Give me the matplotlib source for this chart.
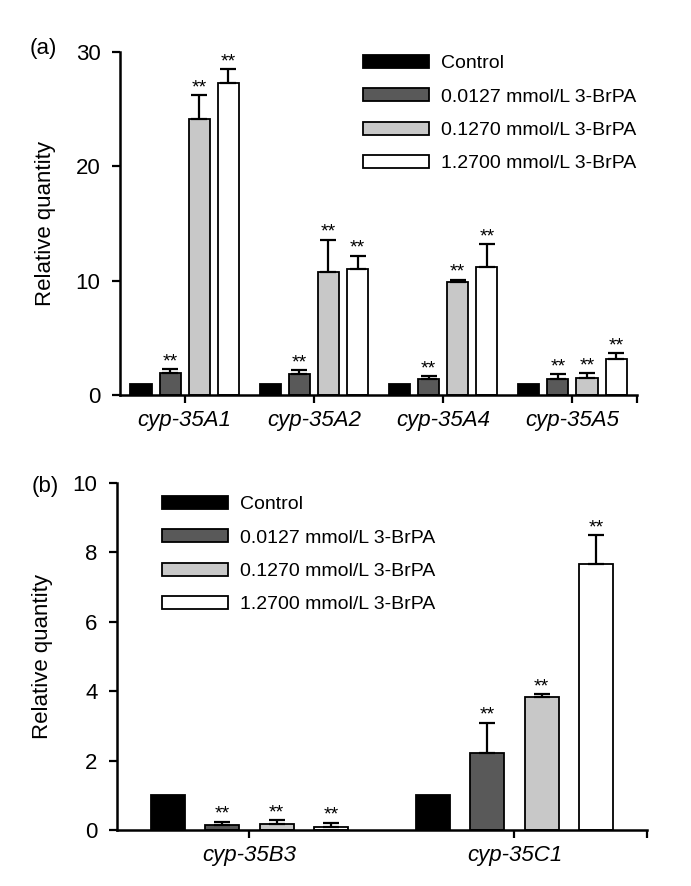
import numpy as np
import matplotlib.pyplot as plt
from matplotlib.patches import Patch

plt.rcParams['font.family'] = ['Liberation Sans', 'DejaVu Sans']

# Dados
series = ['Control', '0.0127 mmol/L 3-BrPA', '0.1270 mmol/L 3-BrPA', '1.2700 mmol/L 3-BrPA']
colors = ['#000000', '#595959', '#c8c8c8', '#ffffff']

genes_a = ['cyp-35A1', 'cyp-35A2', 'cyp-35A4', 'cyp-35A5']
# valores por série (linha) e gene (coluna)
vals_a = [[1.0, 1.0, 1.0, 1.0],
          [1.9, 1.85, 1.4, 1.4],
          [24.1, 10.8, 9.9, 1.5],
          [27.3, 11.0, 11.2, 3.2]]
errs_a = [[0, 0, 0, 0],
          [0.35, 0.35, 0.25, 0.45],
          [2.1, 2.8, 0.2, 0.4],
          [1.2, 1.2, 2.0, 0.5]]

genes_b = ['cyp-35B3', 'cyp-35C1']
vals_b = [[1.0, 1.0],
          [0.14, 2.21],
          [0.17, 3.82],
          [0.10, 7.67]]
errs_b = [[0, 0],
          [0.10, 0.88],
          [0.11, 0.10],
          [0.11, 0.81]]

fig = plt.figure(figsize=(6.91, 8.86), dpi=100)


def painel(ax, genes, vals, errs, step, width, ymax, yticks, capsize):
    x = np.arange(len(genes))
    for i in range(len(series)):
        pos = x + (i - 1.5) * step
        ax.bar(pos, vals[i], width, color=colors[i], edgecolor='black', linewidth=1.3, zorder=2)
        if i > 0:
            ax.errorbar(pos, vals[i], yerr=[np.zeros(len(genes)), errs[i]], fmt='none',
                        ecolor='black', elinewidth=1.6, capsize=capsize, capthick=1.6, zorder=3)
            for p, v, e in zip(pos, vals[i], errs[i]):
                ax.annotate('**', (p, v + e), xytext=(0, 2), textcoords='offset points',
                            ha='center', va='baseline', fontsize=14)
    ax.set_xlim(-0.5, len(genes) - 0.5)
    ax.set_ylim(0, ymax)
    ax.set_yticks(yticks)
    ax.set_xticks(x)
    ax.set_xticklabels(genes, fontstyle='italic', fontsize=16)
    ax.set_xticks([len(genes) - 0.5], minor=True)
    ax.tick_params(axis='both', which='both', direction='out', length=6, width=1.6, labelsize=16, pad=5)
    ax.tick_params(axis='y', pad=8)
    for s in ['top', 'right']:
        ax.spines[s].set_visible(False)
    for s in ['left', 'bottom']:
        ax.spines[s].set_linewidth(1.8)
    ax.set_ylabel('Relative quantity', fontsize=16, labelpad=14)


handles = [Patch(facecolor=c, edgecolor='black', linewidth=1.3) for c in colors]

ax1 = fig.add_axes([0.1737, 0.554, 0.922 - 0.1737, 0.9413 - 0.554])
painel(ax1, genes_a, vals_a, errs_a, 0.225, 0.163, 30, [0, 10, 20, 30], 6)
fig.legend(handles, series, loc='upper left', bbox_to_anchor=(363 / 691, 1 - 55 / 886),
           frameon=False, fontsize=14, handlelength=3.4, handleheight=0.65,
           handletextpad=0.6, labelspacing=0.82, borderpad=0, borderaxespad=0)
fig.text(0.043, 0.945, '(a)', fontsize=16, ha='left', va='center')

ax2 = fig.add_axes([0.1693, 0.0632, 0.9363 - 0.1693, 0.4552 - 0.0632])
painel(ax2, genes_b, vals_b, errs_b, 0.206, 0.129, 10, [0, 2, 4, 6, 8, 10], 6)
fig.legend(handles, series, loc='upper left', bbox_to_anchor=(162 / 691, 1 - 496 / 886),
           frameon=False, fontsize=14, handlelength=3.4, handleheight=0.65,
           handletextpad=0.6, labelspacing=0.82, borderpad=0, borderaxespad=0)
fig.text(0.046, 0.451, '(b)', fontsize=16, ha='left', va='center')

fig.savefig('out.png', dpi=100)
